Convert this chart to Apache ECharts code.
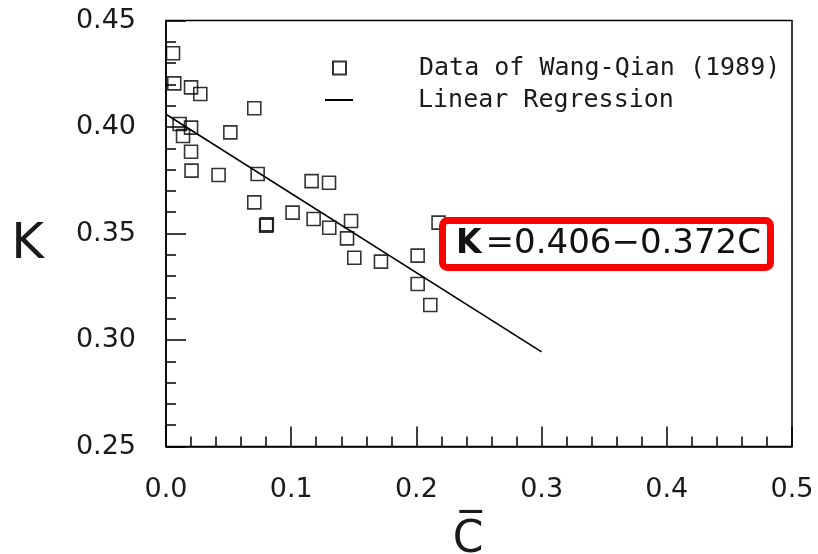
<!DOCTYPE html>
<html>
<head>
<meta charset="utf-8">
<script src="https://cdn.jsdelivr.net/npm/echarts@6/dist/echarts.min.js"></script>
<style>html,body{margin:0;padding:0;background:#fff;}#chart{width:818px;height:554px;}</style>
</head>
<body>
<div id="chart"></div>
<script>
// Data of Wang-Qian (1989): mean concentration C and coefficient K
var dataC = [0.0056, 0.0066, 0.020, 0.0274, 0.0705, 0.0109, 0.020, 0.0136, 0.0514, 0.020,
             0.0204, 0.042, 0.0732, 0.1163, 0.1302, 0.0705, 0.080, 0.0805, 0.1011, 0.1179,
             0.1304, 0.1478, 0.1446, 0.2177, 0.1504, 0.1717, 0.201, 0.201, 0.2111];
var dataK = [0.4346, 0.4205, 0.4186, 0.4155, 0.4088, 0.4014, 0.3997, 0.3958, 0.3975, 0.3884,
             0.3795, 0.3775, 0.3779, 0.3746, 0.3738, 0.3646, 0.3537, 0.3543, 0.3598, 0.3568,
             0.3527, 0.3559, 0.3477, 0.3551, 0.3386, 0.3368, 0.3396, 0.3263, 0.3164];
// Linear regression K = 0.406 - 0.372C, end points
var lineC = [0.0, 0.3];
var lineK = [0.406, 0.2944];
var seriesNames = ['Data of Wang-Qian (1989)', 'Linear Regression'];
var equationText = '=0.406\u22120.372C';

var scatterData = dataC.map(function (c, i) { return [c, dataK[i]]; });
var lineData = lineC.map(function (c, i) { return [c, lineK[i]]; });

var txt = '#1a1a1a';
var chart = echarts.init(document.getElementById('chart'));
chart.setOption({
  animation: false,
  backgroundColor: '#fff',
  grid: { left: 166, right: 26, top: 20.5, bottom: 107.5, show: true, borderColor: '#000', borderWidth: 1.5,
          backgroundColor: 'transparent', containLabel: false, outerBoundsMode: 'none' },
  title: {
    text: '{k|K}{e|' + equationText + '}',
    left: 442, top: 218,
    padding: [7, 10, 7, 14],
    borderColor: '#ff0000', borderWidth: 7, borderRadius: 5,
    backgroundColor: '#fff',
    textStyle: {
      fontWeight: 'normal',
      rich: {
        k: { fontFamily: 'DejaVu Sans', fontWeight: 'bold', fontSize: 33, color: '#111', lineHeight: 38, padding: [0, 4, 0, 0] },
        e: { fontFamily: 'DejaVu Sans', fontWeight: 'normal', fontSize: 34, color: '#111', lineHeight: 38 }
      }
    }
  },
  legend: [
    { data: [seriesNames[0]], left: 332, top: 55, padding: 0, itemWidth: 13, itemHeight: 13,
      textStyle: { fontFamily: 'DejaVu Sans Mono', fontSize: 25, color: txt, lineHeight: 26, padding: [0, 0, 0, 68] } },
    { data: [{ name: seriesNames[1], icon: 'rect' }], left: 325, top: 87, padding: 0, itemWidth: 28, itemHeight: 2,
      itemStyle: { color: '#000', borderWidth: 0 },
      textStyle: { fontFamily: 'DejaVu Sans Mono', fontSize: 25, color: txt, lineHeight: 26, padding: [0, 0, 0, 60] } }
  ],
  xAxis: {
    type: 'value', min: 0, max: 0.5, interval: 0.1,
    name: 'C\u0305', nameLocation: 'middle', nameGap: 72,
    nameTextStyle: { fontFamily: 'DejaVu Sans', fontSize: 44, color: txt, padding: [0, 22, 0, 0] },
    axisLine: { show: true, lineStyle: { color: '#000', width: 1.5 } },
    axisTick: { show: true, inside: true, length: 20, lineStyle: { color: '#000', width: 1.5 } },
    minorTick: { show: true, splitNumber: 5, length: 10, lineStyle: { color: '#000', width: 1.5 } },
    splitLine: { show: false },
    axisLabel: { margin: 30, fontFamily: 'DejaVu Sans', fontSize: 27, color: txt, formatter: function (v) { return v.toFixed(1); } }
  },
  yAxis: {
    type: 'value', min: 0.25, max: 0.45, interval: 0.05,
    name: '{k|K}', nameLocation: 'middle', nameGap: 122, nameRotate: 0,
    nameTextStyle: { color: txt, rich: { k: { fontFamily: 'DejaVu Sans', fontSize: 50, color: txt, lineHeight: 50, padding: [24, 0, 0, 0] } } },
    axisLine: { show: true, lineStyle: { color: '#000', width: 1.5 } },
    axisTick: { show: true, inside: true, length: 20, lineStyle: { color: '#000', width: 1.5 } },
    minorTick: { show: true, splitNumber: 5, length: 10, lineStyle: { color: '#000', width: 1.5 } },
    splitLine: { show: false },
    axisLabel: { margin: 30, fontFamily: 'DejaVu Sans', fontSize: 27, color: txt, formatter: function (v) { return v.toFixed(2); } }
  },
  series: [
    { name: seriesNames[0], type: 'scatter', data: scatterData, symbol: 'rect', symbolSize: 13,
      itemStyle: { color: 'rgba(255,255,255,0)', borderColor: '#000', borderWidth: 1.6 }, z: 3 },
    { name: seriesNames[1], type: 'line', data: lineData, symbol: 'none', showSymbol: false,
      lineStyle: { color: '#000', width: 1.6 }, itemStyle: { color: '#000' }, z: 2 }
  ]
});
</script>
</body>
</html>
